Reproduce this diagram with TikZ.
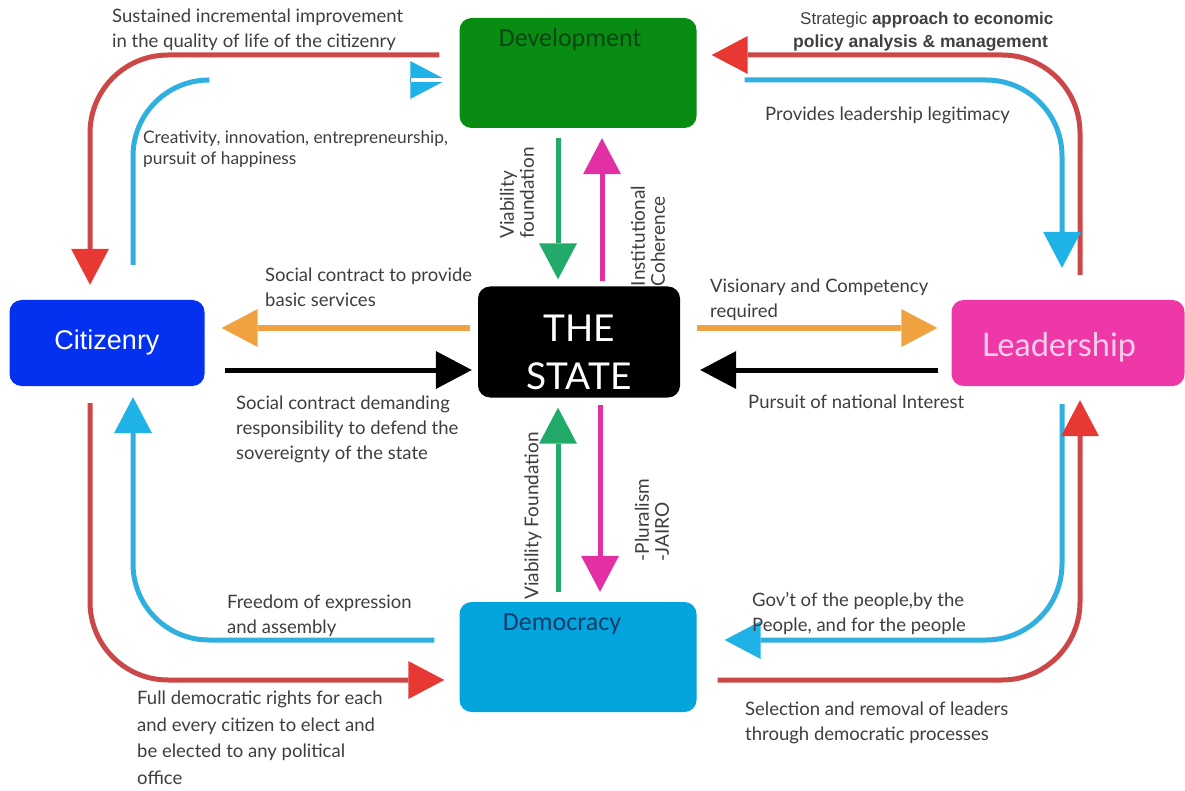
\documentclass[tikz,border=0pt]{standalone}
\usepackage{fontspec}
\setmainfont{Lato}
\newfontfamily\arialfont{Liberation Sans}
\newfontfamily\calfont{Carlito}
\usetikzlibrary{arrows.meta,positioning,calc}

\definecolor{redline}{RGB}{204,72,72}
\definecolor{redtip}{RGB}{232,56,52}
\definecolor{blueline}{RGB}{48,176,222}
\definecolor{bluetip}{RGB}{30,178,230}
\definecolor{orng}{RGB}{240,162,64}
\definecolor{grn}{RGB}{34,170,104}
\definecolor{pnk}{RGB}{226,48,164}
\definecolor{devgreen}{RGB}{8,140,18}
\definecolor{devtext}{RGB}{10,70,20}
\definecolor{citblue}{RGB}{4,48,240}
\definecolor{leadpink}{RGB}{238,56,168}
\definecolor{leadtext}{RGB}{250,205,235}
\definecolor{demblue}{RGB}{4,164,220}
\definecolor{demtext}{RGB}{16,60,110}
\definecolor{txtgray}{RGB}{62,62,62}

\begin{document}
\begin{tikzpicture}[x=1pt,y=-1pt,
    box/.style={rounded corners=12pt,inner sep=0pt,minimum width=237pt,minimum height=110pt},
    lbl/.style={font=\fontsize{18.5}{25}\selectfont,text=txtgray,align=left,inner sep=0pt,anchor=north west},
    vlbl/.style={font=\fontsize{19}{20}\selectfont,text=txtgray,align=left,inner sep=0pt,rotate=90},
    tip/.style={-{Triangle[width=38pt,length=36pt,line width=0pt,color=#1]}},
    conn/.style={line width=5pt},
    redarr/.style={conn,draw=redline,rounded corners=78pt,tip=redtip},
    bluearr/.style={conn,draw=blueline,rounded corners=76pt,tip=bluetip},
    blueln/.style={conn,draw=blueline,rounded corners=76pt},
    orngarr/.style={conn,draw=orng,tip=orng},
    blkarr/.style={conn,draw=black,tip=black},
    grnarr/.style={conn,draw=grn,tip=grn},
    pnkarr/.style={conn,draw=pnk,tip=pnk},
]
    \fill[white] (0,0) rectangle (1185,791);
    \useasboundingbox (0,0) rectangle (1185,791);

    % the five blocks
    \node[box,fill=devgreen,
          label={[anchor=north,inner sep=0pt,xshift=-8pt,yshift=-10pt,text=devtext,font=\calfont\fontsize{26}{26}\selectfont]north:Development}]
          (dev) at (578,73) {};
    \node[box,fill=black,minimum width=202pt,minimum height=111pt,
          label={[align=center,yshift=-10pt,text=white,font=\fontsize{37}{48}\selectfont]center:THE\\STATE}]
          (state) at (579,342) {};
    \node[box,fill=citblue,minimum width=195pt,minimum height=86pt,text=white,
          font=\arialfont\fontsize{27}{27}\selectfont] (cit) at (107,343) {Citizenry};
    \node[box,fill=leadpink,minimum width=233pt,minimum height=86pt,
          label={[xshift=-9pt,yshift=-4pt,text=leadtext,font=\fontsize{32.5}{32.5}\selectfont]center:Leadership}]
          (lead) at (1068,343) {};
    \node[box,fill=demblue,
          label={[anchor=north,inner sep=0pt,xshift=-16pt,yshift=-12pt,text=demtext,font=\calfont\fontsize{26}{26}\selectfont]north:Democracy}]
          (dem) at (578,657) {};

    % outer loops, top
    \draw[redarr] ([xshift=-20pt,yshift=18pt]dev.west) -| ([xshift=-17pt,yshift=15pt]cit.north);
    \draw[blueln] ([xshift=26pt,yshift=35pt]cit.north) |- ([xshift=-250pt,yshift=-7pt]dev.west);
    \draw[bluearr] ([xshift=-45pt,yshift=-7pt]dev.west) -- ([xshift=-13pt,yshift=-7pt]dev.west);
    \draw[white,line width=3.5pt] ([xshift=-48pt,yshift=-7pt]dev.west) -- ([xshift=-10pt,yshift=-7pt]dev.west);
    \draw[redarr] ([xshift=12pt,yshift=25pt]lead.north) |- ([xshift=15pt,yshift=18pt]dev.east);
    \draw[bluearr] ([xshift=48pt,yshift=-7pt]dev.east) -| ([xshift=-6pt,yshift=32pt]lead.north);

    % outer loops, bottom
    \draw[bluearr] ([xshift=-25pt,yshift=17pt]dem.west) -| ([xshift=26pt,yshift=-11pt]cit.south);
    \draw[redarr] ([xshift=-17pt,yshift=-17pt]cit.south) |- ([xshift=-15pt,yshift=-23pt]dem.west);
    \draw[bluearr] ([xshift=-6pt,yshift=-18pt]lead.south) |- ([xshift=28pt,yshift=17pt]dem.east);
    \draw[redarr] ([xshift=21pt,yshift=-23pt]dem.east) -| ([xshift=12pt,yshift=-14pt]lead.south);

    % to and from the state
    \draw[grnarr] ([xshift=-20pt,yshift=-10pt]dev.south) -- ([xshift=-21pt,yshift=7pt]state.north);
    \draw[pnkarr] ([xshift=23pt,yshift=5pt]state.north) -- ([xshift=24pt,yshift=-10pt]dev.south);
    \draw[grnarr] ([xshift=-20pt,yshift=10pt]dem.north) -- ([xshift=-21pt,yshift=-10pt]state.south);
    \draw[pnkarr] ([xshift=21pt,yshift=-7pt]state.south) -- ([xshift=22pt,yshift=10pt]dem.north);
    \draw[orngarr] ([xshift=-8pt,yshift=14pt]state.west) -- ([xshift=17pt,yshift=15pt]cit.east);
    \draw[blkarr] ([xshift=20pt,yshift=-27pt]cit.east) -- ([xshift=-6pt,yshift=-28pt]state.west);
    \draw[orngarr] ([xshift=17pt,yshift=14pt]state.east) -- ([xshift=-14pt,yshift=15pt]lead.west);
    \draw[blkarr] ([xshift=-13pt,yshift=-27pt]lead.west) -- ([xshift=20pt,yshift=-28pt]state.east);

    % labels
    \node[lbl] (quality) at (112,9) {Sustained incremental improvement\\in the quality of life of the citizenry};
    \node[lbl,font=\fontsize{17.3}{21}\selectfont] (creative) at (143,131) {Creativity, innovation, entrepreneurship,\\pursuit of happiness};
    \node[lbl,font=\arialfont\bfseries\fontsize{17.5}{23}\selectfont,text=black!75] (strategic) at (793,12)
        {\hspace*{7pt}\mdseries\fontsize{17}{23}\selectfont Strategic \bfseries approach to economic\\policy analysis \& management};
    \node[lbl] (legit) at (765,107) {Provides leadership legitimacy};
    \node[lbl] (services) at (265,268) {Social contract to provide\\basic services};
    \node[lbl] (defend) at (236,396) {Social contract demanding\\responsibility to defend the\\sovereignty of the state};
    \node[lbl] (vision) at (710,279) {Visionary and Competency\\required};
    \node[lbl] (interest) at (748,395) {Pursuit of national Interest};
    \node[lbl] (freedom) at (227,595) {Freedom of expression\\and assembly};
    \node[lbl,font=\fontsize{18.5}{26.5}\selectfont] (rights) at (137,691) {Full democratic rights for each\\and every citizen to elect and\\be elected to any political\\office};
    \node[lbl] (govt) at (752,592) {Gov't of the people,by the\\People, and for the people};
    \node[lbl] (select) at (745,702) {Selection and removal of leaders\\through democratic processes};

    \node[vlbl] (viab1) at (517,193) {Viability\\foundation};
    \node[vlbl] (cohere) at (648,236) {Institutional\\Coherence};
    \node[vlbl] (viab2) at (533,516) {Viability Foundation};
    \node[vlbl] (plural) at (652,520) {-Pluralism\\-JAIRO};
\end{tikzpicture}
\end{document}
